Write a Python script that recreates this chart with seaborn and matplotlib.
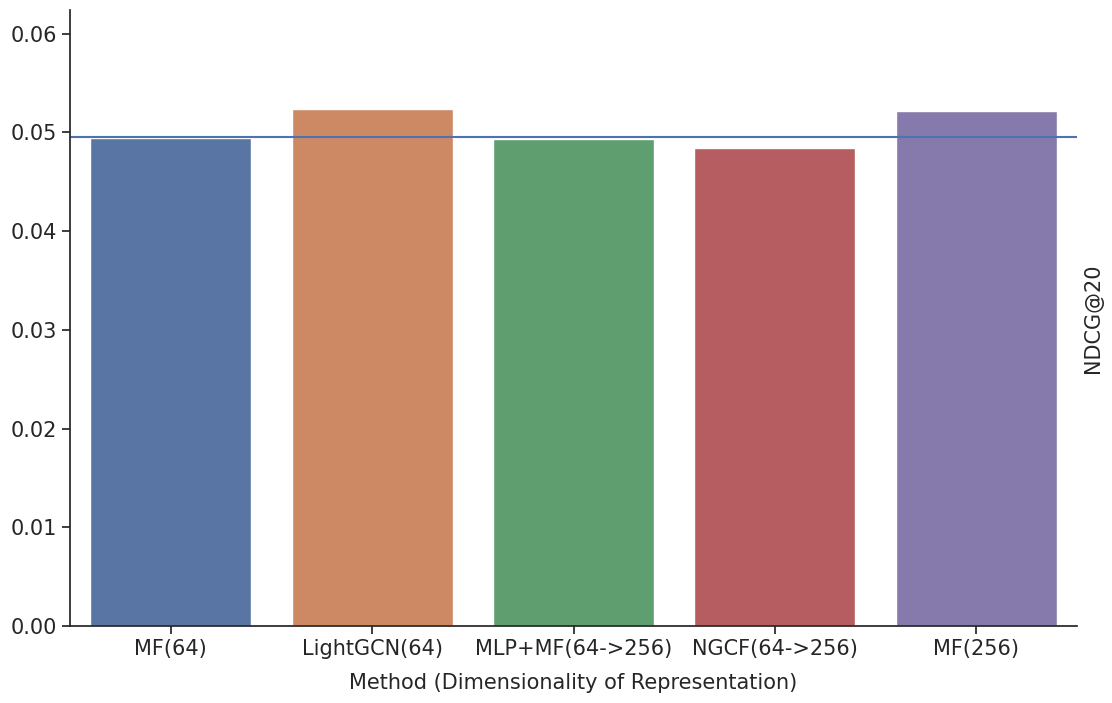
import pandas as pd
import seaborn as sns
import matplotlib.pyplot as plt

methods = ['MF(64)', 'LightGCN(64)', 'MLP+MF(64->256)', 'NGCF(64->256)', 'MF(256)']
ndcg = [0.04945, 0.05235, 0.04932, 0.04841, 0.05215]
baseline = 0.04952

df = pd.DataFrame({'Method': methods, 'NDCG@20': ndcg})

sns.set_theme(style='ticks', palette='deep', font_scale=1.2)
fig, ax = plt.subplots(figsize=(11.12, 7.03), dpi=100)
sns.barplot(data=df, x='Method', y='NDCG@20', hue='Method', palette='deep',
            legend=False, ax=ax)
ax.axhline(baseline, color=sns.color_palette('deep')[0], linewidth=1.5)
ax.set_ylim(0, 0.0624)
ax.set_xlabel('Method (Dimensionality of Representation)', fontsize=15, labelpad=10)
ax.set_ylabel('NDCG@20', fontsize=15)
ax.yaxis.set_label_position('right')
ax.tick_params(labelsize=15)
sns.despine(ax=ax)
plt.subplots_adjust(left=0.063, right=0.9685, top=0.986, bottom=0.1095)
plt.savefig('out.png', dpi=100)
